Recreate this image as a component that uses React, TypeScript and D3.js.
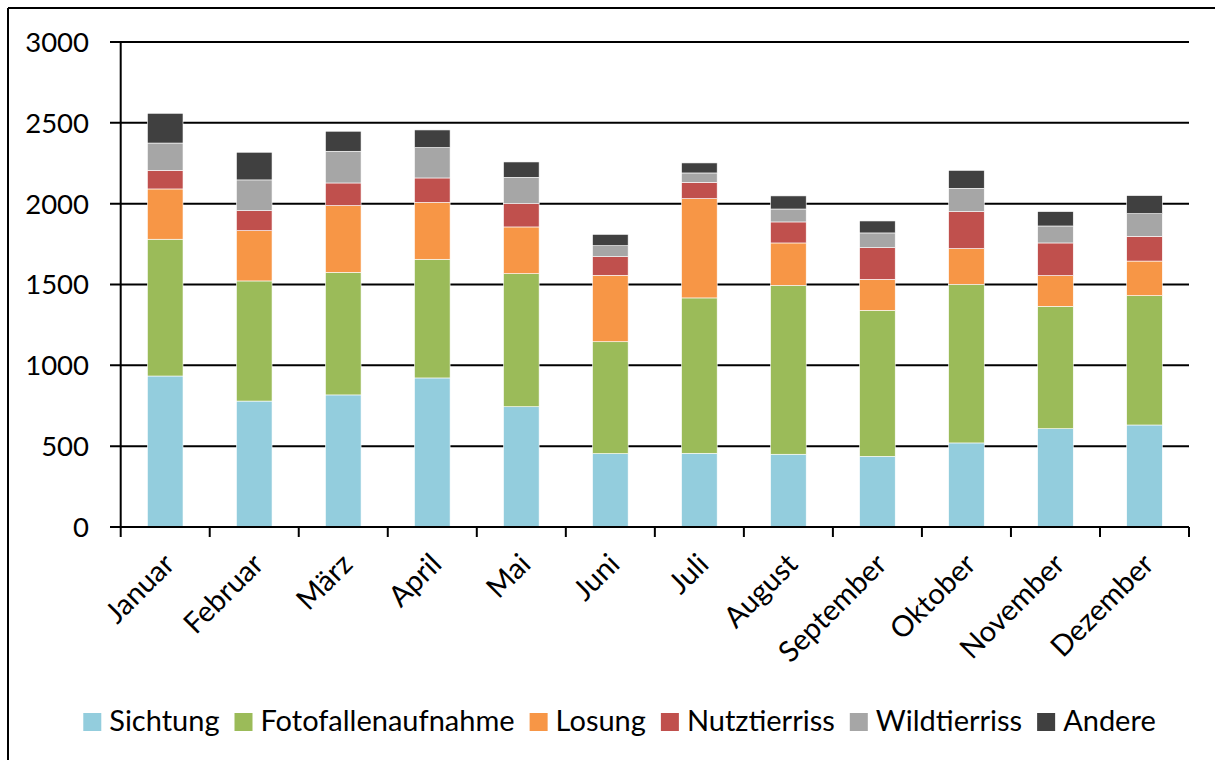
import React from "react";
import * as d3 from "d3";

const months = ["Januar", "Februar", "März", "April", "Mai", "Juni", "Juli", "August", "September", "Oktober", "November", "Dezember"];
const seriesNames = ["Sichtung", "Fotofallenaufnahme", "Losung", "Nutztierriss", "Wildtierriss", "Andere"];
const seriesColors = ["#93CDDD", "#9BBB59", "#F79646", "#C0504D", "#A6A6A6", "#404040"];
const sichtung = [934, 779, 817, 922, 744, 454, 456, 450, 437, 520, 608, 631];
const fotofallenaufnahme = [846, 743, 758, 734, 823, 692, 961, 1045, 903, 981, 757, 800];
const losung = [311, 311, 413, 352, 289, 411, 614, 262, 192, 221, 190, 214];
const nutztierriss = [115, 124, 140, 151, 146, 115, 101, 130, 196, 229, 202, 153];
const wildtierriss = [169, 190, 196, 188, 161, 68, 58, 80, 91, 144, 105, 140];
const andere = [184, 171, 124, 109, 95, 70, 62, 81, 74, 111, 89, 112];
const yTicks = [0, 500, 1000, 1500, 2000, 2500, 3000];

const FONT = "Lato, 'Open Sans', sans-serif";

function measure(text: string, size: number): number {
  const c = document.createElement("canvas");
  const ctx = c.getContext("2d")!;
  ctx.font = `${size}px Lato`;
  return ctx.measureText(text).width;
}

export default function App() {
  const W = 1215, H = 760;
  const left = 120.7, right = 1189, top = 42, bottom = 527;
  const seriesData = [sichtung, fotofallenaufnahme, losung, nutztierriss, wildtierriss, andere];
  const table = months.map((m, i) => {
    const row: any = { month: m };
    seriesNames.forEach((s, k) => (row[s] = seriesData[k][i]));
    return row;
  });
  const stacked = d3.stack().keys(seriesNames)(table);
  const x = d3.scaleBand().domain(months).range([left, right]).paddingInner(0.6).paddingOuter(0.3);
  const y = d3.scaleLinear().domain([0, 3000]).range([bottom, top]);
  const step = (right - left) / months.length;

  const legendFont = 29;
  const sw = 18, swGap = 8, itemGap = 15;
  const widths = seriesNames.map((s) => measure(s, legendFont));
  const total = widths.reduce((a, w) => a + sw + swGap + w, 0) + itemGap * (seriesNames.length - 1);
  let lx = 619.5 - total / 2;
  const legendItems = seriesNames.map((s, i) => {
    const item = { name: s, color: seriesColors[i], x: lx };
    lx += sw + swGap + widths[i] + itemGap;
    return item;
  });

  return (
    <svg width={W} height={H} style={{ position: "absolute", left: 0, top: 0, background: "#fff" }} fontFamily={FONT}>
      <rect x={0} y={0} width={W} height={H} fill="#fff" />
      <line x1={8} y1={8} x2={W} y2={8} stroke="#000" strokeWidth={2} />
      <line x1={8} y1={8} x2={8} y2={H} stroke="#000" strokeWidth={2} />
      {yTicks.map((t) => (
        <g key={t}>
          <line x1={110} x2={right} y1={y(t)} y2={y(t)} stroke="#000" strokeWidth={2} />
          <text x={89} y={y(t)} dy="0.36em" textAnchor="end" fontSize={27.5} fill="#000">{t}</text>
        </g>
      ))}
      {stacked.map((layer, k) => (
        <g key={layer.key} fill={seriesColors[k]}>
          {layer.map((d, i) => (
            <rect key={i} x={x(months[i])} width={x.bandwidth()} y={y(d[1])} height={y(d[0]) - y(d[1])} stroke="#fff" strokeWidth={0.6} />
          ))}
        </g>
      ))}
      <line x1={left} x2={left} y1={top} y2={bottom} stroke="#000" strokeWidth={2} />
      <line x1={left} x2={right} y1={bottom} y2={bottom} stroke="#000" strokeWidth={2} />
      {d3.range(months.length + 1).map((i) => (
        <line key={i} x1={left + i * step} x2={left + i * step} y1={bottom} y2={bottom + 10} stroke="#000" strokeWidth={2} />
      ))}
      {months.map((m) => {
        const cx = (x(m) as number) + x.bandwidth() / 2;
        return (
          <text key={m} transform={`translate(${cx + 11},${566}) rotate(-45)`} textAnchor="end" fontSize={29} fill="#000">{m}</text>
        );
      })}
      {legendItems.map((it) => (
        <g key={it.name}>
          <rect x={it.x} y={713} width={sw} height={sw} fill={it.color} />
          <text x={it.x + sw + swGap} y={731} fontSize={legendFont} fill="#000">{it.name}</text>
        </g>
      ))}
    </svg>
  );
}
